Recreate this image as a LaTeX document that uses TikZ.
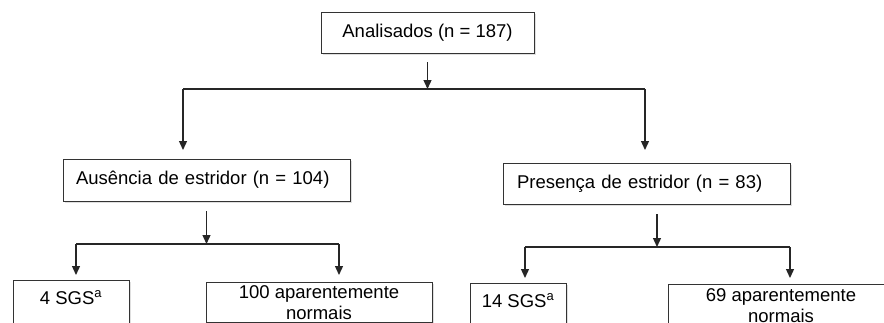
\documentclass[tikz,border=0pt]{standalone}
\usepackage{fontspec}
\setmainfont{Liberation Sans}
\usepackage{tikz}
\usetikzlibrary{arrows.meta, shadows}

\begin{document}
\begin{tikzpicture}[x=1pt, y=-1pt,
    boxnode/.style={draw=black!80, line width=0.9pt, fill=white,
        drop shadow={opacity=0.25, shadow xshift=1.5pt, shadow yshift=-1.5pt},
        font=\fontsize{18.5}{21}\selectfont},
    flowline/.style={draw=black!85, line width=1.3pt},
    flowarrow/.style={flowline, -{Triangle[length=9pt, width=8pt]}}
]
\clip (0,0) rectangle (884,322);

\node[boxnode, minimum width=213pt, minimum height=41pt](anal) at (427.5, 32.5) {Analisados (n = 187)};

\node[boxnode, minimum height=42pt, text width=261pt, inner xsep=13pt, align=left](ausen) at (206.5, 180) {Ausência de estridor (n = 104)};
\node[boxnode, minimum height=41pt, text width=259pt, inner xsep=14pt, align=left](presen) at (646.5, 183.5) {Presença de estridor (n = 83)};

\node[boxnode, anchor=north, minimum width=116pt, inner ysep=10.4pt, text depth=30pt](sgs1) at (71, 280) {4 SGS\textsuperscript{a}};
\node[boxnode, anchor=north, minimum width=226pt, inner ysep=3pt, align=center](norm1) at (319, 282) {100 aparentemente\\normais};
\node[boxnode, anchor=north, minimum width=96pt, inner ysep=10.4pt, text depth=30pt](sgs2) at (518, 283) {14 SGS\textsuperscript{a}};
\node[boxnode, anchor=north, minimum width=226pt, inner ysep=4pt, align=center](norm2) at (781, 284) {69 aparentemente\\normais};

% junctions
\coordinate (j0) at (427.5, 89);
\coordinate (j0l) at (183, 89);
\coordinate (j0r) at (645, 89);
\coordinate (ja) at (206.5, 244);
\coordinate (jal) at (76, 244);
\coordinate (jar) at (339, 244);
\coordinate (jp) at (657, 247);
\coordinate (jpl) at (525, 247);
\coordinate (jpr) at (790, 247);

\draw[flowarrow] ([yshift=-9pt]anal.south) -- (j0);
\draw[flowline] (j0l) -- (j0r);
\draw[flowarrow] (j0l) -- ++(0, 61);
\draw[flowarrow] (j0r) -- ++(0, 61);

\draw[flowarrow] ([yshift=-10pt]ausen.south) -- (ja);
\draw[flowline] (jal) -- (jar);
\draw[flowarrow] (jal) -- ++(0, 31);
\draw[flowarrow] (jar) -- ++(0, 31);

\draw[flowarrow] ([yshift=-10pt]presen.south -| jp) -- (jp);
\draw[flowline] (jpl) -- (jpr);
\draw[flowarrow] (jpl) -- ++(0, 31);
\draw[flowarrow] (jpr) -- ++(0, 31);
\end{tikzpicture}
\end{document}
